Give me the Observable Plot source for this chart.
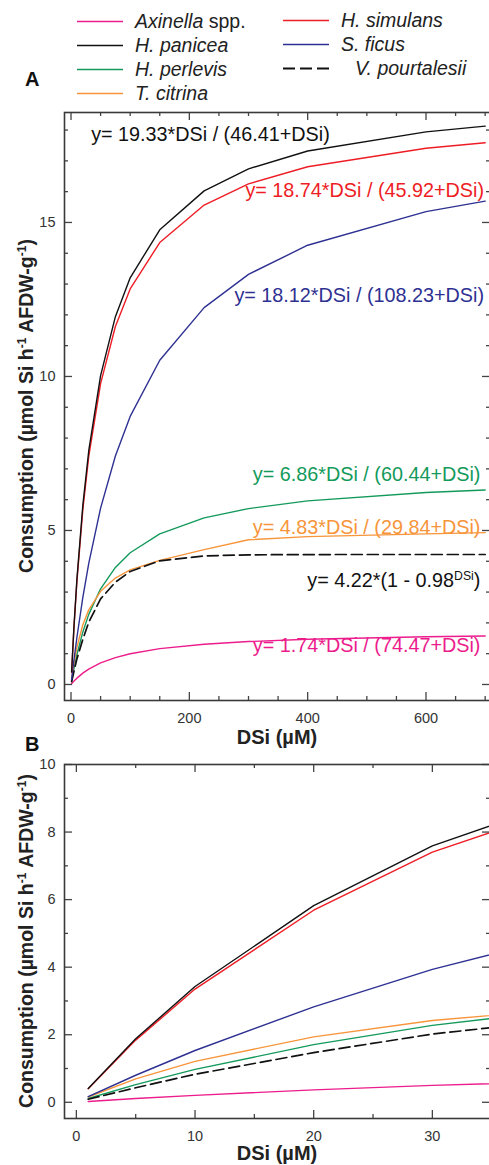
<!DOCTYPE html>
<html><head><meta charset="utf-8">
<script src="https://cdn.jsdelivr.net/npm/d3@7"></script>
<script src="https://cdn.jsdelivr.net/npm/@observablehq/plot@0.6"></script>
<style>
html,body{margin:0;padding:0;background:#fff;overflow:hidden;}
#wrap{position:relative;width:489px;height:1165px;overflow:hidden;}
#wrap > div, #wrap > svg{position:absolute;left:0;}
</style></head><body><div id="wrap">
<div id="pa" style="top:0"></div>
<div id="pb" style="top:752px"></div>
<svg id="ov" width="489" height="1165" style="top:0;pointer-events:none"></svg>
</div>
<script>
// ---- data ----
const dsi = [1, 5, 10, 20, 30, 50, 75, 100, 150, 225, 300, 400, 600, 700];
const axinella     = [0.023, 0.110, 0.206, 0.368, 0.500, 0.699, 0.873, 0.997, 1.163, 1.307, 1.394, 1.467, 1.548, 1.573];
const hPanicea     = [0.408, 1.880, 3.427, 5.821, 7.589, 10.025, 11.941, 13.203, 14.762, 16.025, 16.740, 17.320, 17.942, 18.128];
const hPerlevis    = [0.112, 0.524, 0.974, 1.706, 2.276, 3.106, 3.799, 4.276, 4.890, 5.408, 5.710, 5.960, 6.232, 6.315];
const tCitrina     = [0.157, 0.693, 1.212, 1.938, 2.422, 3.025, 3.455, 3.720, 4.030, 4.380, 4.700, 4.800, 4.890, 4.930];
const hSimulans    = [0.399, 1.840, 3.351, 5.686, 7.405, 9.769, 11.623, 12.843, 14.348, 15.564, 16.252, 16.810, 17.408, 17.586];
const sFicus       = [0.166, 0.800, 1.533, 2.826, 3.933, 5.726, 7.417, 8.702, 10.526, 12.235, 13.316, 14.261, 15.351, 15.694];
const vPourtalesii = [0.090, 0.430, 0.830, 1.470, 2.020, 2.780, 3.320, 3.670, 4.016, 4.175, 4.210, 4.219, 4.220, 4.220];

const species = ["Axinella spp.", "H. panicea", "H. perlevis", "T. citrina", "H. simulans", "S. ficus", "V. pourtalesii"];
const series  = [axinella, hPanicea, hPerlevis, tCitrina, hSimulans, sFicus, vPourtalesii];
const equations = [
  "y= 1.74*DSi / (74.47+DSi)",
  "y= 19.33*DSi / (46.41+DSi)",
  "y= 6.86*DSi / (60.44+DSi)",
  "y= 4.83*DSi / (29.84+DSi)",
  "y= 18.74*DSi / (45.92+DSi)",
  "y= 18.12*DSi / (108.23+DSi)",
  "y= 4.22*(1 - 0.98DSi)"
];
// equation label anchors (data units of panel A)
const eqX = [692, 34, 692, 692, 698, 698, 692];
const eqY = [1.05, 17.64, 6.62, 4.90, 15.82, 12.42, 3.16];

// ---- styles ----
const colors = ["#ec1c8c", "#111111", "#139a5b", "#f7953b", "#ee1c24", "#2e3192", "#111111"];
const dashed = [false, false, false, false, false, false, true];
const eqAnchor = ["end", "start", "end", "end", "end", "end", "end"];
const drawOrder = [0, 2, 3, 6, 5, 4, 1];
const FONT = "'Liberation Sans', Arial, Helvetica, sans-serif";

const rows = species.flatMap((s, i) => dsi.map((x, j) => ({species: s, dsi: x, value: series[i][j]})));

function panel({xDomain, yDomain, xMaj, xMin, yMaj, yMin, mTop, mBottom, height, withEq}) {
  const W = 426, H = height - mTop - mBottom;
  const tk = {stroke: "#444", strokeWidth: 1.3};
  const marks = [];
  drawOrder.forEach(i => {
    marks.push(Plot.line(rows.filter(r => r.species === species[i]), {
      x: "dsi", y: "value", stroke: colors[i], strokeWidth: dashed[i] ? 1.7 : 1.4,
      strokeDasharray: dashed[i] ? "11,5" : undefined, clip: true
    }));
  });
  if (withEq) {
    equations.forEach((t, i) => {
      marks.push(Plot.text([{x: eqX[i], y: eqY[i], t}], {
        x: "x", y: "y", text: "t", fill: colors[i], textAnchor: eqAnchor[i],
        lineAnchor: "bottom", fontSize: 19.8
      }));
    });
  }
  marks.push(
    Plot.ruleX(xMaj, {...tk, insetTop: H - 8}),
    Plot.ruleX(xMin, {...tk, insetTop: H - 4}),
    Plot.ruleX(xMaj, {...tk, insetBottom: H - 8}),
    Plot.ruleX(xMin, {...tk, insetBottom: H - 4}),
    Plot.ruleY(yMaj, {...tk, insetRight: W - 8}),
    Plot.ruleY(yMin, {...tk, insetRight: W - 4}),
    Plot.ruleY(yMaj, {...tk, insetLeft: W - 8}),
    Plot.ruleY(yMin, {...tk, insetLeft: W - 4}),
    Plot.frame({stroke: "#3a3a3a", strokeWidth: 1.6}),
    Plot.axisX({ticks: xMaj, tickSize: 0, tickPadding: 12, label: null, tickFormat: d => String(d)}),
    Plot.axisY({ticks: yMaj, tickSize: 0, tickPadding: 9, label: null, tickFormat: d => String(d)})
  );
  return Plot.plot({
    width: 500, height,
    marginLeft: 64, marginRight: 10, marginTop: mTop, marginBottom: mBottom,
    x: {domain: xDomain}, y: {domain: yDomain},
    style: {fontFamily: FONT, fontSize: "14.5px", color: "#333", background: "transparent", maxWidth: "none", overflow: "visible"},
    marks
  });
}

const range = (a, b, s) => d3.range(a, b + s / 2, s);
const svgA = panel({
  xDomain: [-11, 709], yDomain: [-0.52, 18.57],
  xMaj: [0, 200, 400, 600], xMin: range(50, 700, 50).filter(d => d % 200 !== 0),
  yMaj: [0, 5, 10, 15], yMin: range(1, 18, 1).filter(d => d % 5 !== 0),
  mTop: 112, mBottom: 52, height: 752, withEq: true
});
const svgB = panel({
  xDomain: [-1, 34.9], yDomain: [-0.48, 10],
  xMaj: [0, 10, 20, 30], xMin: [5, 15, 25],
  yMaj: [0, 2, 4, 6, 8, 10], yMin: [1, 3, 5, 7, 9],
  mTop: 12, mBottom: 47, height: 413, withEq: false
});
document.getElementById("pa").appendChild(svgA);
document.getElementById("pb").appendChild(svgB);

function addParts(sel, parts) {
  parts.forEach(([t, sup, ital]) => {
    const ts = sel.append("tspan").text(t);
    if (sup) ts.attr("baseline-shift", "super").attr("font-size", "0.62em");
    if (ital) ts.attr("font-style", "italic");
  });
}
// superscript in the V. pourtalesii equation
d3.select(svgA).selectAll("text").filter(function () { return this.textContent === equations[6]; })
  .each(function () {
    const s = d3.select(this); s.text("");
    addParts(s, [["y= 4.22*(1 - 0.98"], ["DSi", true], [")"]]);
  });

// ---- overlay: legend, panel letters, axis titles ----
const ov = d3.select("#ov").attr("font-family", FONT);
const legPos = [[77, 135, 27.5], [77, 135, 51.5], [77, 135, 75.5], [77, 135, 99.5], [283, 341, 26.5], [283, 341, 50.5], [283, 355, 74.5]];
species.forEach((s, i) => {
  const [lx, tx, by] = legPos[i];
  ov.append("line").attr("x1", lx).attr("x2", lx + 46).attr("y1", by - 6).attr("y2", by - 6)
    .attr("stroke", colors[i]).attr("stroke-width", dashed[i] ? 1.8 : 1.5)
    .attr("stroke-dasharray", dashed[i] ? "12,5" : null);
  const t = ov.append("text").attr("x", tx).attr("y", by).attr("font-size", 19.5).attr("fill", "#222");
  if (s === "Axinella spp.") addParts(t, [["Axinella", false, true], [" spp."]]);
  else addParts(t, [[s, false, true]]);
});
ov.append("text").attr("x", 25).attr("y", 86).attr("font-size", 20).attr("font-weight", "bold").attr("fill", "#111").text("A");
ov.append("text").attr("x", 25).attr("y", 751).attr("font-size", 20).attr("font-weight", "bold").attr("fill", "#111").text("B");
[[744], [1160]].forEach(([y]) => {
  ov.append("text").attr("x", 277).attr("y", y).attr("text-anchor", "middle").attr("font-size", 20)
    .attr("font-weight", "bold").attr("fill", "#222").text("DSi (µM)");
});
[406, 941].forEach(cy => {
  const t = ov.append("text").attr("transform", `translate(33,${cy}) rotate(-90)`).attr("text-anchor", "middle")
    .attr("font-size", 19.5).attr("font-weight", "bold").attr("fill", "#222");
  addParts(t, [["Consumption (µmol Si h"], ["-1", true], [" AFDW-g"], ["-1", true], [")"]]);
});
</script></body></html>
